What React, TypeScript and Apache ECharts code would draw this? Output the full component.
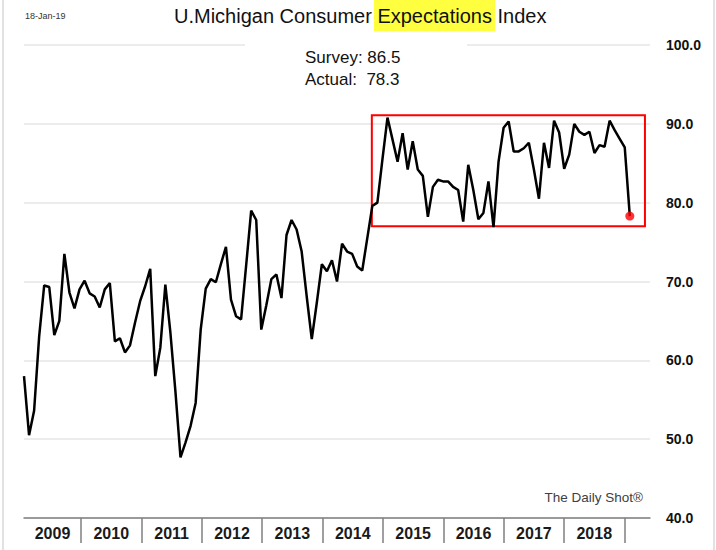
import React, { useEffect, useRef } from "react";
import * as echarts from "echarts";

// U.Michigan Consumer Expectations Index, monthly, Jan 2009 .. Jan 2019
const y2009 = [58.0, 50.5, 53.6, 63.0, 69.5, 69.3, 63.2, 65.0, 73.5, 68.6, 66.6, 69.0];
const y2010 = [70.1, 68.5, 68.1, 66.7, 69.0, 69.8, 62.4, 62.8, 61.0, 61.9, 64.8, 67.5];
const y2011 = [69.4, 71.6, 58.0, 61.6, 69.6, 63.5, 56.0, 47.7, 49.6, 51.7, 54.6, 63.9];
const y2012 = [69.1, 70.3, 69.9, 72.2, 74.4, 67.7, 65.6, 65.2, 72.0, 79.0, 77.8, 63.9];
const y2013 = [67.0, 70.3, 70.9, 67.9, 75.9, 77.8, 76.6, 73.8, 68.1, 62.7, 67.3, 72.2];
const y2014 = [71.3, 72.7, 70.0, 74.8, 73.8, 73.5, 71.9, 71.4, 75.5, 79.6, 80.0, 85.5];
const y2015 = [90.8, 88.0, 85.2, 88.8, 84.2, 87.8, 84.2, 83.4, 78.2, 82.0, 82.9, 82.7];
const y2016 = [82.7, 82.0, 81.6, 77.6, 84.8, 81.6, 77.9, 78.7, 82.7, 76.9, 85.2, 89.5];
const y2017 = [90.3, 86.5, 86.5, 86.9, 87.6, 84.2, 80.5, 87.6, 84.4, 90.4, 88.9, 84.3];
const y2018 = [86.1, 90.0, 89.0, 88.6, 89.0, 86.3, 87.3, 87.1, 90.4, 89.2, 88.1, 87.0];
const y2019 = [78.3];

const yearLabels = ["2009", "2010", "2011", "2012", "2013", "2014", "2015", "2016", "2017", "2018"];
const yTicks = [40, 50, 60, 70, 80, 90, 100];

const survey = 86.5;
const actual = 78.3;

// highlighted range (x in months since Jan 2009, y in index points)
const boxX = [68.9, 123.0];
const boxY = [77.0, 91.1];

const series = [
  ...y2009, ...y2010, ...y2011, ...y2012, ...y2013,
  ...y2014, ...y2015, ...y2016, ...y2017, ...y2018, ...y2019,
];
const points = series.map((v, i) => [i, v]);
const last = points[points.length - 1];

// year boundaries (tick separators) and label centres, in month units
const boundaries = yearLabels.map((_, k) => 11.3 + 11.96 * k);
const centers = yearLabels.map((_, k) => (k === 0 ? boundaries[0] / 2 : (boundaries[k - 1] + boundaries[k]) / 2));

const F = '"Liberation Sans", Arial, sans-serif';

export default function App() {
  const ref = useRef<HTMLDivElement>(null);
  useEffect(() => {
    if (!ref.current) return;
    const chart = echarts.init(ref.current, null, { renderer: "svg" });
    chart.setOption({
      animation: false,
      backgroundColor: "#ffffff",
      grid: { left: 24, right: 66, top: 45, bottom: 32, containLabel: false, outerBoundsMode: "none" },
      xAxis: {
        type: "value",
        min: 0,
        max: 124,
        axisLine: { show: true, lineStyle: { color: "#7f7f7f", width: 1.5 } },
        axisTick: {
          show: true,
          customValues: boundaries,
          length: 25,
          lineStyle: { color: "#7f7f7f", width: 1.5 },
        },
        axisLabel: {
          show: true,
          customValues: centers,
          margin: 7,
          fontFamily: F,
          fontSize: 16,
          fontWeight: "bold",
          color: "#1a1a1a",
          formatter: (v: number) => {
            let best = 0;
            centers.forEach((c, i) => {
              if (Math.abs(c - v) < Math.abs(centers[best] - v)) best = i;
            });
            return yearLabels[best];
          },
        },
        splitLine: { show: false },
      },
      yAxis: {
        type: "value",
        position: "right",
        min: yTicks[0],
        max: yTicks[yTicks.length - 1],
        interval: 10,
        axisLine: { show: false },
        axisTick: { show: false },
        splitLine: { show: true, lineStyle: { color: "#e6e6e6", width: 1.5 } },
        axisLabel: {
          margin: 16,
          fontFamily: F,
          fontSize: 14,
          fontWeight: "bold",
          color: "#111111",
          formatter: (v: number) => v.toFixed(1),
        },
      },
      series: [
        {
          type: "line",
          data: points,
          symbol: "none",
          lineStyle: { color: "#000000", width: 2.5 },
          z: 3,
          markArea: {
            silent: true,
            itemStyle: { color: "rgba(0,0,0,0)", borderColor: "#ff0000", borderWidth: 2 },
            data: [[{ coord: [boxX[0], boxY[1]] }, { coord: [boxX[1], boxY[0]] }]],
          },
        },
        {
          type: "scatter",
          data: [last],
          symbol: "circle",
          symbolSize: 9,
          itemStyle: { color: "#ff0000" },
          z: 5,
        },
      ],
      graphic: [
        { type: "line", shape: { x1: 3, y1: 0, x2: 3, y2: 550 }, style: { stroke: "#d9d9d9", lineWidth: 1.5 }, z: 1 },
        { type: "line", shape: { x1: 714, y1: 0, x2: 714, y2: 550 }, style: { stroke: "#d9d9d9", lineWidth: 1.5 }, z: 1 },
        { type: "rect", shape: { x: 374, y: 0, width: 121, height: 31 }, style: { fill: "#ffff40" }, z: 50 },
        {
          type: "text",
          x: 174,
          y: 16,
          z: 51,
          style: {
            text: "U.Michigan Consumer Expectations Index",
            fontFamily: F,
            fontSize: 20,
            fill: "#111111",
            textAlign: "left",
            textVerticalAlign: "middle",
          },
        },
        {
          type: "text",
          x: 25,
          y: 16,
          z: 51,
          style: { text: "18-Jan-19", fontFamily: F, fontSize: 9, fill: "#333333", textAlign: "left", textVerticalAlign: "middle" },
        },
        { type: "rect", shape: { x: 245, y: 36, width: 222, height: 18 }, style: { fill: "#ffffff" }, z: 50 },
        {
          type: "text",
          x: 305,
          y: 57,
          z: 51,
          style: { text: "Survey: " + survey.toFixed(1), fontFamily: F, fontSize: 17, fill: "#111111", textAlign: "left", textVerticalAlign: "middle" },
        },
        {
          type: "text",
          x: 305,
          y: 79,
          z: 51,
          style: { text: "Actual:  " + actual.toFixed(1), fontFamily: F, fontSize: 17, fill: "#111111", textAlign: "left", textVerticalAlign: "middle" },
        },
        {
          type: "text",
          x: 643,
          y: 497,
          z: 51,
          style: { text: "The Daily Shot®", fontFamily: F, fontSize: 13.5, fill: "#404040", textAlign: "right", textVerticalAlign: "middle" },
        },
      ],
    });
    return () => chart.dispose();
  }, []);
  return (
    <div
      ref={ref}
      style={{ position: "fixed", left: 0, top: 0, width: 716, height: 550, background: "#fff" }}
    />
  );
}
